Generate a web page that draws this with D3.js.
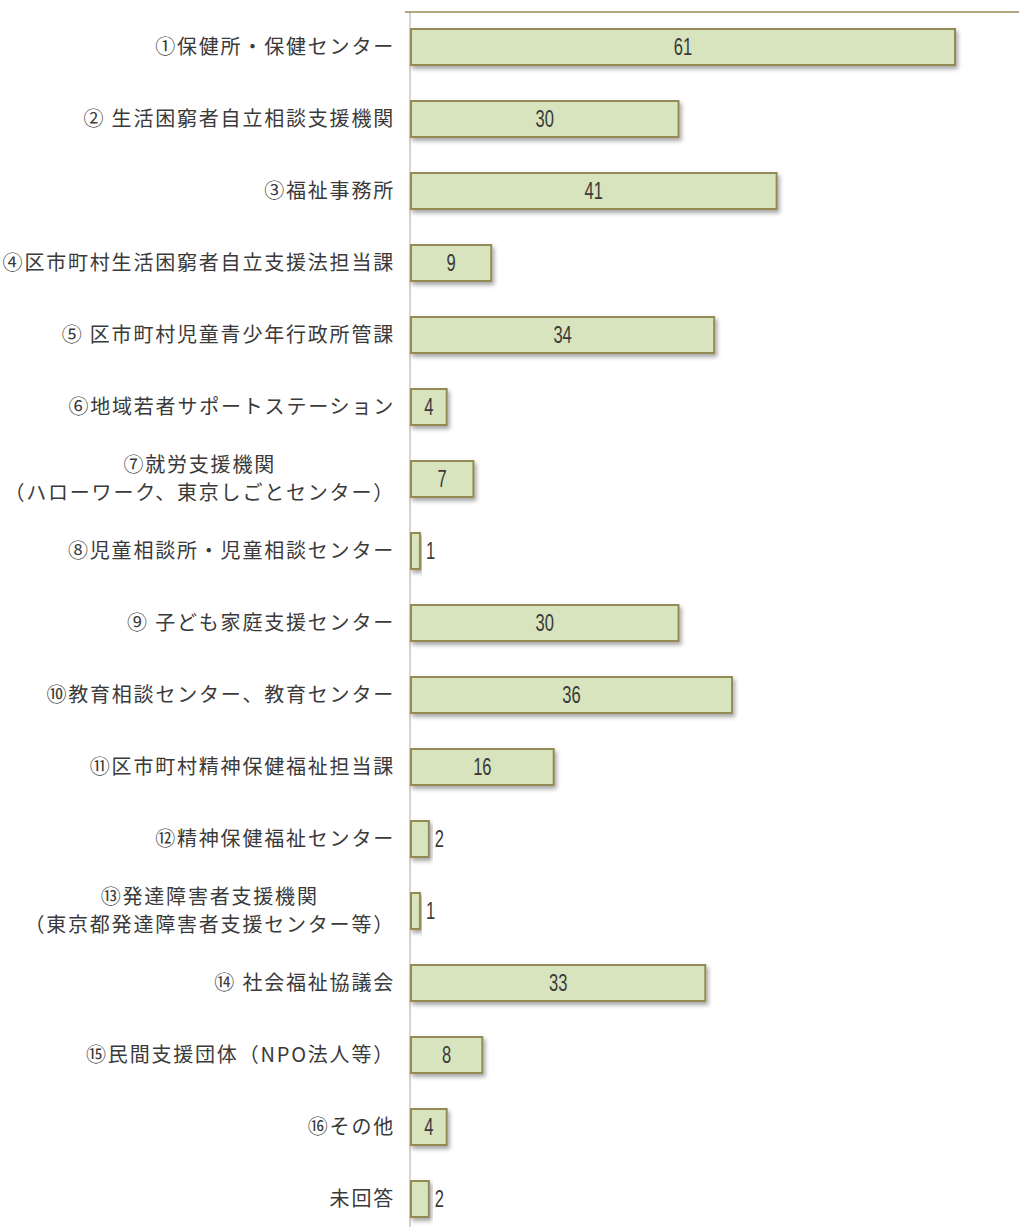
<!DOCTYPE html>
<html>
<head>
<meta charset="utf-8">
<script src="https://cdn.jsdelivr.net/npm/d3@7"></script>
<style>
  body { margin: 0; background: #fff; }
  .label { font-family: "Noto Sans CJK JP", sans-serif; font-size: 20px; fill: #3a3a3a; letter-spacing: 1.8px; white-space: pre; }
  .value { font-family: "Liberation Sans", Arial, sans-serif; font-size: 23px; fill: #3a3a3a; }
</style>
</head>
<body>
<svg id="chart" width="1019" height="1227"></svg>
<script>
// category labels (multi-line ones split with \n)
const categories = [
  '①保健所・保健センター',
  '② 生活困窮者自立相談支援機関',
  '③福祉事務所',
  '④区市町村生活困窮者自立支援法担当課',
  '⑤ 区市町村児童青少年行政所管課',
  '⑥地域若者サポートステーション',
  '⑦就労支援機関\n（ハローワーク、東京しごとセンター）',
  '⑧児童相談所・児童相談センター',
  '⑨ 子ども家庭支援センター',
  '⑩教育相談センター、教育センター',
  '⑪区市町村精神保健福祉担当課',
  '⑫精神保健福祉センター',
  '⑬発達障害者支援機関\n（東京都発達障害者支援センター等）',
  '⑭ 社会福祉協議会',
  '⑮民間支援団体（NPO法人等）',
  '⑯その他',
  '未回答'
];
const values = [61, 30, 41, 9, 34, 4, 7, 1, 30, 36, 16, 2, 1, 33, 8, 4, 2];

const svg = d3.select('#chart');

const defs = svg.append('defs');
defs.append('filter')
  .attr('id', 'shadow')
  .attr('x', '-10%').attr('y', '-30%').attr('width', '130%').attr('height', '180%')
  .append('feDropShadow')
  .attr('dx', 2).attr('dy', 3).attr('stdDeviation', 2)
  .attr('flood-color', '#000').attr('flood-opacity', 0.35);

const x = d3.scaleLinear().domain([0, 61]).range([411, 955]);
const y = d3.scaleBand()
  .domain(categories)
  .range([11, 11 + 72 * categories.length])
  .paddingInner(0.5)
  .paddingOuter(0.25);

const rows = categories.map((c, i) => ({c: c, v: values[i]}));

// axis lines
svg.append('line')
  .attr('x1', 410).attr('x2', 410).attr('y1', 12).attr('y2', 1227)
  .attr('stroke', '#d6d4cc').attr('stroke-width', 2);
svg.append('line')
  .attr('x1', 405).attr('x2', 1019).attr('y1', 12).attr('y2', 12)
  .attr('stroke', '#948a54').attr('stroke-width', 1.5);

// bars
svg.selectAll('.bar')
  .data(rows)
  .join('rect')
  .classed('bar', true)
  .attr('x', x(0))
  .attr('y', (d) => y(d.c))
  .attr('width', (d) => x(d.v) - x(0))
  .attr('height', y.bandwidth())
  .attr('fill', '#d7e4bd')
  .attr('stroke', '#948a54')
  .attr('stroke-width', 2)
  .attr('filter', 'url(#shadow)');

// values (condensed look via horizontal squeeze)
svg.selectAll('.value')
  .data(rows)
  .join('text')
  .classed('value', true)
  .attr('transform', (d) => {
    const vx = d.v >= 4 ? (x(0) + x(d.v)) / 2 : x(d.v) + 6;
    return `translate(${vx},${y(d.c) + y.bandwidth() / 2}) scale(0.72,1)`;
  })
  .attr('dy', '0.36em')
  .attr('text-anchor', (d) => d.v >= 4 ? 'middle' : 'start')
  .text((d) => d.v);

// category labels
const lab = svg.selectAll('.label')
  .data(rows)
  .join('text')
  .classed('label', true)
  .attr('y', (d) => y(d.c) + y.bandwidth() / 2);

lab.each(function (d) {
  const t = d3.select(this);
  const lines = d.c.split('\n');
  if (lines.length === 1) {
    t.attr('x', 395).attr('text-anchor', 'end').attr('dy', '0.35em').text(lines[0]);
  } else {
    const spans = lines.map((l, i) => t.append('tspan').attr('dy', i === 0 ? '-0.35em' : '1.4em').text(l));
    const widths = spans.map((s) => s.node().getComputedTextLength());
    const w = d3.max(widths);
    const cx = 395 - w / 2;
    spans.forEach((s) => s.attr('x', cx).attr('text-anchor', 'middle'));
  }
});
</script>
</body>
</html>
